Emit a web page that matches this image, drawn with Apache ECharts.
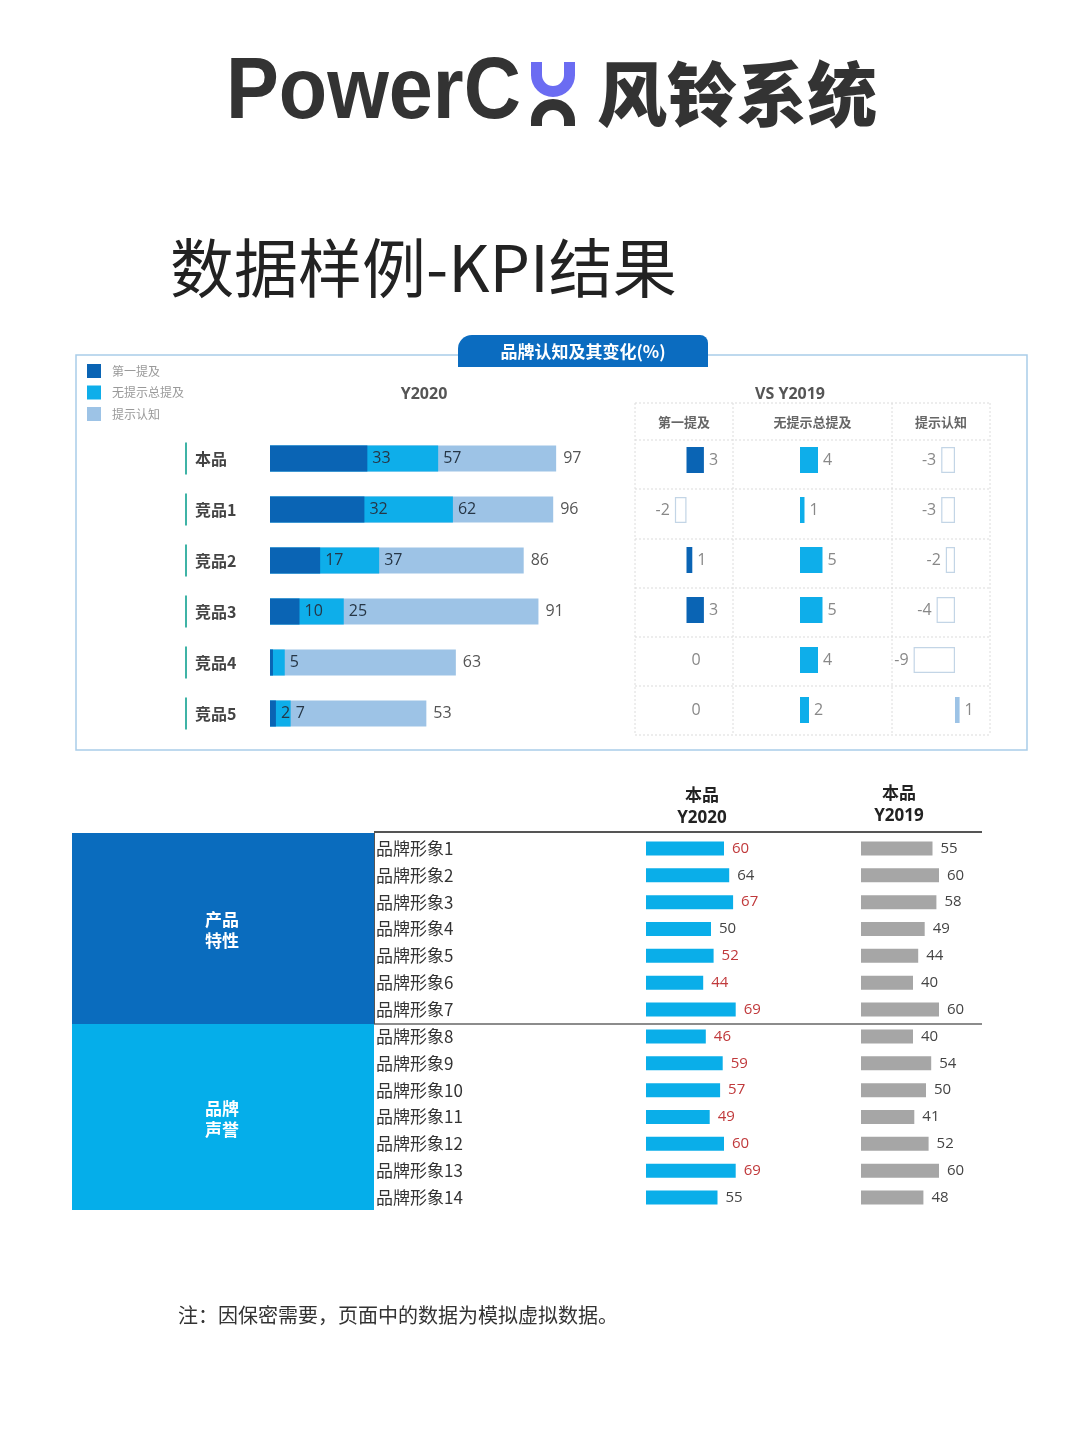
<!DOCTYPE html>
<html>
<head>
<meta charset="utf-8">
<script src="https://cdn.jsdelivr.net/npm/echarts@6/dist/echarts.min.js"></script>
<style>
html,body{margin:0;padding:0;background:#fff;}
#c{width:1080px;height:1440px;}
</style>
</head>
<body>
<div id="c"></div>
<script>
// ---------- data ----------
const topCats = ['本品', '竞品1', '竞品2', '竞品3', '竞品4', '竞品5'];
const firstMention = [33, 32, 17, 10, 1, 2];
const unaidedTotal = [57, 62, 37, 25, 5, 7];
const aidedAware = [97, 96, 86, 91, 63, 53];

const vsHeaders = ['第一提及', '无提示总提及', '提示认知'];
const vsFirst = [3, -2, 1, 3, 0, 0];
const vsUnaided = [4, 1, 5, 5, 4, 2];
const vsAided = [-3, -3, -2, -4, -9, 1];

const imageCats = ['品牌形象1', '品牌形象2', '品牌形象3', '品牌形象4', '品牌形象5', '品牌形象6', '品牌形象7',
  '品牌形象8', '品牌形象9', '品牌形象10', '品牌形象11', '品牌形象12', '品牌形象13', '品牌形象14'];
const y2020 = [60, 64, 67, 50, 52, 44, 69, 46, 59, 57, 49, 60, 69, 55];
const y2019 = [55, 60, 58, 49, 44, 40, 60, 40, 54, 50, 41, 52, 60, 48];
const higher2020 = [1, 0, 1, 0, 1, 1, 1, 1, 1, 1, 1, 1, 1, 0];
const groups = ['产品\n特性', '品牌\n声誉'];

// ---------- style ----------
const C_DARK = '#0a64b4', C_CYAN = '#0eaeea', C_PALE = '#9dc3e6';
const CJK = '"Noto Sans CJK SC", "Noto Sans", sans-serif';
const NUM = '"Open Sans", "Noto Sans", sans-serif';

const chart = echarts.init(document.getElementById('c'), null, {renderer: 'canvas'});

function vsData(arr, color) {
  return arr.map(v => ({
    value: v,
    itemStyle: v < 0 ? {color: '#ffffff', borderColor: '#c3d5e6', borderWidth: 1.2} : {color: color},
    label: {position: v < 0 ? 'left' : 'right'}
  }));
}

function txt(text, x, y, size, color, weight, align, family, lh) {
  const st = {text: text, fill: color, fontSize: size, fontWeight: weight || 'normal',
    fontFamily: family || CJK, textAlign: align || 'left', textVerticalAlign: 'middle'};
  if (lh) st.lineHeight = lh;
  return {type: 'text', x: x, y: y, z: 100, style: st};
}
function line(x1, y1, x2, y2, stroke, w, dash, z) {
  const st = {stroke: stroke, lineWidth: w};
  if (dash) st.lineDash = dash;
  return {type: 'line', z: z || 2, shape: {x1: x1, y1: y1, x2: x2, y2: y2}, style: st};
}

const graphics = [];
// logo
graphics.push({type: 'text', x: 226, y: 94, scaleX: 0.9, z: 100,
  style: {text: 'PowerC', fill: '#333333', fontSize: 88, fontWeight: 'bold',
    fontFamily: '"Liberation Sans", Arial, sans-serif', textAlign: 'left', textVerticalAlign: 'middle'}});
graphics.push({type: 'arc', z: 100, shape: {cx: 553, cy: 75, r: 16.5, startAngle: 0, endAngle: Math.PI, clockwise: true},
  style: {stroke: '#6b6cf2', lineWidth: 11, fill: null}});
graphics.push(line(536.5, 62, 536.5, 75.5, '#6b6cf2', 11, null, 100));
graphics.push(line(569.5, 62, 569.5, 75.5, '#6b6cf2', 11, null, 100));
graphics.push({type: 'arc', z: 100, shape: {cx: 553, cy: 121, r: 16.5, startAngle: Math.PI, endAngle: Math.PI * 2, clockwise: true},
  style: {stroke: '#333333', lineWidth: 11, fill: null}});
graphics.push(line(536.5, 120.5, 536.5, 126, '#333333', 11, null, 100));
graphics.push(line(569.5, 120.5, 569.5, 126, '#333333', 11, null, 100));
graphics.push(txt('风铃系统', 597, 94, 70, '#333333', 900, 'left'));

// page title
graphics.push(txt('数据样例-KPI结果', 170, 268, 64, '#222222', 'normal', 'left'));

// top panel
graphics.push({type: 'rect', z: 0, shape: {x: 76, y: 355, width: 951, height: 395},
  style: {fill: null, stroke: '#a9cde9', lineWidth: 1.5}});
graphics.push({type: 'rect', z: 1, shape: {x: 458, y: 335, width: 250, height: 32, r: [14, 8, 0, 0]},
  style: {fill: '#0b6cc0'}});
graphics.push(txt('品牌认知及其变化(%)', 583, 352, 17, '#ffffff', 'bold', 'center'));
graphics.push(txt('Y2020', 424, 394, 16, '#555555', 'bold', 'center', NUM));
graphics.push(txt('VS Y2019', 790, 394, 16, '#555555', 'bold', 'center', NUM));

// VS table lines
const vx = [635, 733, 892, 990];
const vy = [403, 440, 489, 539, 588, 637, 686, 735];
vx.forEach(x => graphics.push(line(x, 403, x, 735, '#dcdcdc', 1, [2, 2], 1)));
vy.forEach(y => graphics.push(line(635, y, 990, y, '#dcdcdc', 1, [2, 2], 1)));
vsHeaders.forEach((h, i) => graphics.push(txt(h, (vx[i] + vx[i + 1]) / 2, 422, 13, '#666666', 'bold', 'center')));

// bottom section
graphics.push({type: 'rect', z: 0, shape: {x: 72, y: 833, width: 302, height: 191}, style: {fill: '#0a6cbe'}});
graphics.push({type: 'rect', z: 0, shape: {x: 72, y: 1024, width: 302, height: 186}, style: {fill: '#05aeea'}});
graphics.push(txt(groups[0], 222, 930, 17, '#ffffff', 'bold', 'center', CJK, 21));
graphics.push(txt(groups[1], 222, 1119, 17, '#ffffff', 'bold', 'center', CJK, 21));
graphics.push(line(374, 832, 982, 832, '#555555', 2));
graphics.push(line(374, 1024, 982, 1024, '#666666', 1.5));
graphics.push(line(374.5, 832, 374.5, 1024, '#555555', 1));
graphics.push(txt('本品', 702, 795, 17, '#222222', 'bold', 'center'));
graphics.push(txt('Y2020', 702, 818, 17, '#222222', 'bold', 'center', NUM));
graphics.push(txt('本品', 899, 793, 17, '#222222', 'bold', 'center'));
graphics.push(txt('Y2019', 899, 816, 17, '#222222', 'bold', 'center', NUM));

// footnote
graphics.push(txt('注：因保密需要，页面中的数据为模拟虚拟数据。', 178, 1315, 20, '#333333', 'normal', 'left'));

const hiddenX = (min, max, gi) => ({type: 'value', gridIndex: gi, min: min, max: max, show: false});
const hiddenY = (cats, gi) => ({type: 'category', gridIndex: gi, data: cats, inverse: true, show: false});

const option = {
  backgroundColor: '#ffffff',
  animation: false,
  legend: {
    data: ['第一提及', '无提示总提及', '提示认知'],
    orient: 'vertical', left: 87, top: 364, padding: 0, itemWidth: 14, itemHeight: 14, itemGap: 7.5,
    icon: 'rect',
    textStyle: {color: '#999999', fontSize: 12, fontFamily: CJK, padding: [0, 0, 0, 6]}
  },
  grid: [
    {left: 270, width: 295, top: 433, height: 306},
    {left: 657.5, width: 58, top: 435, height: 300},
    {left: 755, width: 90, top: 435, height: 300},
    {left: 909, width: 69, top: 435, height: 300},
    {left: 646, width: 130, top: 835, height: 376},
    {left: 861, width: 130, top: 835, height: 376}
  ],
  xAxis: [
    hiddenX(0, 100, 0), hiddenX(-5, 5, 1), hiddenX(-10, 10, 2), hiddenX(-10, 5, 3),
    hiddenX(0, 100, 4), hiddenX(0, 100, 5)
  ],
  yAxis: [
    {type: 'category', gridIndex: 0, data: topCats, inverse: true,
      axisLine: {show: false}, axisTick: {show: false},
      axisLabel: {align: 'left', margin: 85,
        formatter: v => '{l| }{t|' + v + '}',
        rich: {
          l: {width: 2, height: 32, backgroundColor: '#3fb3a6'},
          t: {fontSize: 16, fontWeight: 'bold', color: '#444444', fontFamily: CJK, padding: [0, 0, 0, 8]}
        }}},
    hiddenY(topCats, 1), hiddenY(topCats, 2), hiddenY(topCats, 3),
    {type: 'category', gridIndex: 4, data: imageCats, inverse: true,
      axisLine: {show: false}, axisTick: {show: false},
      axisLabel: {align: 'left', margin: 270, fontSize: 17, color: '#333333', fontFamily: CJK}},
    hiddenY(imageCats, 5)
  ],
  series: [
    {name: '提示认知', type: 'bar', xAxisIndex: 0, yAxisIndex: 0, data: aidedAware, barWidth: 26, barGap: '-100%',
      itemStyle: {color: C_PALE},
      label: {show: true, position: 'right', distance: 7, color: '#555555', fontSize: 16, fontFamily: NUM}},
    {name: '无提示总提及', type: 'bar', xAxisIndex: 0, yAxisIndex: 0, data: unaidedTotal, barWidth: 26, barGap: '-100%',
      itemStyle: {color: C_CYAN},
      label: {show: true, position: 'right', distance: 5, color: '#263646', fontSize: 16, fontFamily: NUM}},
    {name: '第一提及', type: 'bar', xAxisIndex: 0, yAxisIndex: 0, barWidth: 26, barGap: '-100%',
      data: firstMention.map(v => ({value: v, label: {show: v >= 2}})),
      itemStyle: {color: C_DARK},
      label: {show: true, position: 'right', distance: 5, color: '#263646', fontSize: 16, fontFamily: NUM}},

    {type: 'bar', xAxisIndex: 1, yAxisIndex: 1, data: vsData(vsFirst, C_DARK), barWidth: 26,
      label: {show: true, distance: 5, color: '#888888', fontSize: 16, fontFamily: NUM}},
    {type: 'bar', xAxisIndex: 2, yAxisIndex: 2, data: vsData(vsUnaided, C_CYAN), barWidth: 26,
      label: {show: true, distance: 5, color: '#888888', fontSize: 16, fontFamily: NUM}},
    {type: 'bar', xAxisIndex: 3, yAxisIndex: 3, data: vsData(vsAided, C_PALE), barWidth: 26,
      label: {show: true, distance: 5, color: '#888888', fontSize: 16, fontFamily: NUM}},

    {type: 'bar', xAxisIndex: 4, yAxisIndex: 4, barWidth: 14,
      data: y2020.map((v, i) => ({value: v, label: {color: higher2020[i] ? '#c0393b' : '#444444'}})),
      itemStyle: {color: '#0aaee9'},
      label: {show: true, position: 'right', distance: 8, fontSize: 15, fontFamily: NUM}},
    {type: 'bar', xAxisIndex: 5, yAxisIndex: 5, barWidth: 14, data: y2019,
      itemStyle: {color: '#a6a6a6'},
      label: {show: true, position: 'right', distance: 8, color: '#444444', fontSize: 15, fontFamily: NUM}}
  ],
  graphic: {elements: graphics}
};
chart.setOption(option);
</script>
</body>
</html>
